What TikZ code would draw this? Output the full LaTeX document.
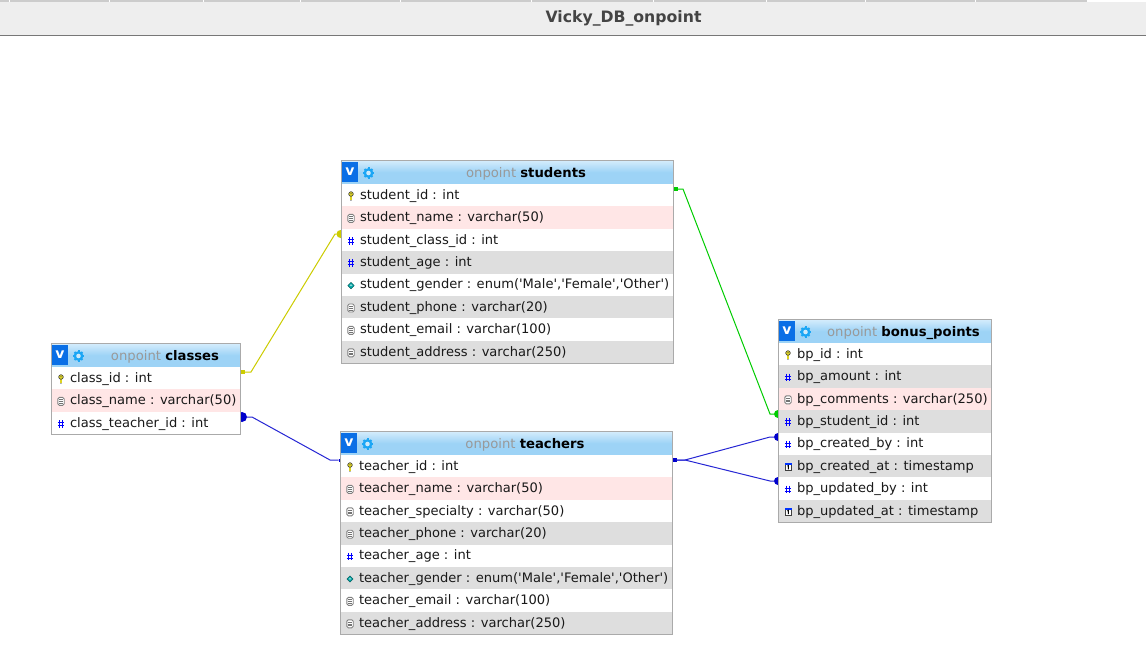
\documentclass[tikz,border=0pt]{standalone}
\usepackage{fontspec}
\setmainfont{DejaVu Sans}
\newfontfamily\rowfont{DejaVu Sans}
\definecolor{barbg}{HTML}{EEEEEE}
\definecolor{barline}{HTML}{777777}
\definecolor{tabc}{HTML}{CCCCCC}
\definecolor{frame}{HTML}{AAAAAA}
\definecolor{rw}{HTML}{FFFFFF}
\definecolor{rp}{HTML}{FFE6E6}
\definecolor{rg}{HTML}{DEDEDE}
\definecolor{hdtop}{HTML}{D4ECFC}
\definecolor{hdbot}{HTML}{9DD3F6}
\definecolor{logoblue}{HTML}{0A6FE6}
\definecolor{gearblue}{HTML}{1BA6F5}
\definecolor{ownc}{HTML}{999999}
\definecolor{fkblue}{HTML}{0000CC}
\definecolor{fkyellow}{HTML}{CCCC00}
\definecolor{fkgreen}{HTML}{00CC00}
\definecolor{titlec}{HTML}{444444}
\tikzset{
  x=1pt,y=-1pt,
  every node/.style={outer sep=0pt},
  rowtext/.style={anchor=base west,inner sep=0pt,font=\rowfont\fontsize{13.05}{15}\selectfont,text=black!90},
  titletext/.style={inner sep=0pt,font=\fontsize{13.2}{15}\selectfont},
  tableframe/.style={draw=frame,line width=1pt,inner sep=0pt,anchor=north west},
  logobox/.style={fill=logoblue,text=white,inner sep=0pt,anchor=north west,minimum width=16pt,minimum height=19.5pt,font=\fontsize{14}{15}\selectfont\bfseries},
  blink/.style={draw=fkblue!85!white,line width=1pt},
  ylink/.style={draw=fkyellow,line width=1pt},
  glink/.style={draw=fkgreen,line width=1pt},
  enddot/.style={circle,inner sep=0pt,minimum size=8pt},
  endsq/.style={rectangle,inner sep=0pt,minimum size=4pt},
  key/.pic={
    \draw[black!75,line width=2.6pt,line cap=round] (0,-.5) -- (0,3.6);
    \draw[yellow!85!black,line width=1.2pt] (0,-.5) -- (0,3.6);
    \fill[yellow!85!black,draw=black!75,line width=.6pt] (0,-2) circle (2.3);
    \fill[black!70] (0,-2.4) circle (.6);
  },
  doc/.pic={
    \draw[draw=black!50,fill=white,line width=.9pt,rounded corners=1.5pt] (-3.2,-4) rectangle (3.2,4);
    \foreach \q in {-1.8,0,1.8}{\draw[black!55,line width=.6pt] (-1.6,\q) -- (1.6,\q);}
  },
  hash/.pic={
    \draw[blue,line width=1pt] (-1.4,-3.8) -- (-1.4,3.8) (1.6,-3.8) -- (1.6,3.8) (-3.2,-1.4) -- (3.2,-1.4) (-3.2,1.6) -- (3.2,1.6);
  },
  enumi/.pic={
    \fill[teal!70!cyan,draw=teal!60!black,line width=.3pt] (0,-3.2) -- (3.2,0) -- (0,3.2) -- (-3.2,0) -- cycle;
    \fill[white,opacity=.55] (0,-1.5) -- (1.5,0) -- (0,0.6) -- (-1.5,0) -- cycle;
  },
  cal/.pic={
    \fill[white,draw=black!75,line width=.6pt] (-3,-3.5) rectangle (3.2,3.5);
    \fill[blue!80!cyan] (-3.3,-4) rectangle (3.5,-2.2);
    \draw[black,line width=.9pt] (-.6,-.9) -- (.3,-1.4) -- (.3,2.4);
  },
  gear/.pic={
    \foreach \a in {0,45,...,315}{\draw[gearblue,line width=2pt] (0,0) -- (\a:5.6);}
    \fill[gearblue] (0,0) circle (4.9);
    \fill[hdbot!50!white] (0,0) circle (2.3);
  }
}
% name, x, top, width, owner title, rows
\newcommand{\dbtable}[6]{%
  \pgfmathsetmacro{\tx}{#2}\pgfmathsetmacro{\ty}{#3}\pgfmathsetmacro{\tw}{#4}
  \shade[top color=hdtop,bottom color=hdbot,middle color=hdbot] (\tx,\ty) rectangle (\tx+\tw,\ty+23.5);
  \node[logobox] (#1-logo) at (\tx+.5,\ty+1.5) {v};
  \pic at (\tx+27,\ty+12.5) {gear};
  \node[titletext] (#1-title) at (\tx+37+\tw/2-18.5,\ty+13.3) {\textcolor{ownc}{onpoint} \textbf{#5}};
  \foreach \ic/\bg/\txt [count=\n from 0] in {#6}{
    \pgfmathsetmacro{\ry}{\ty+23.5+\n*22.4}
    \fill[\bg] (\tx,\ry) rectangle (\tx+\tw,\ry+22.4);
    \pic at (\tx+9.5,\ry+12) {\ic};
    \node[rowtext] (#1-r\n) at (\tx+18.5,\ry+15.3) {\txt};
  }
  \node[tableframe,minimum width=#4 pt,minimum height=203pt] (#1) at (\tx,\ty) {};
}
\begin{document}
\begin{tikzpicture}
\useasboundingbox (0,0) rectangle (1146,645);
\fill[white] (0,0) rectangle (1146,645);
% top bar
\fill[barbg] (0,2) rectangle (1146,35);
\fill[tabc] (0,0) rectangle (1087,2);
\foreach \s in {9,109,203,300,399.5,530.5,652.5,766,865,975}{\fill[white] (\s,0) rectangle (\s+1.2,2);}
\fill[barline] (0,35) rectangle (1146,36);
\node[inner sep=0pt,text=titlec,font=\fontsize{15.7}{17}\selectfont\bfseries] (dbtitle) at (623.5,18.5) {Vicky\_DB\_onpoint};
% connector ends
\node[enddot,fill=fkyellow] (e1) at (340.5,234) {};
\node[endsq,fill=fkyellow] (s1) at (242.5,372) {};
\node[enddot,fill=fkblue,minimum size=10pt] (s2) at (242,417) {};
\node[endsq,fill=fkblue,minimum size=3pt] (e2) at (340,460) {};
\node[endsq,fill=fkgreen] (s3) at (675.5,189) {};
\node[enddot,fill=fkgreen] (e3) at (778,414) {};
\node[endsq,fill=fkblue] (s4) at (674.5,460) {};
\node[enddot,fill=fkblue] (e4) at (778,437) {};
\node[enddot,fill=fkblue] (e5) at (778,481) {};
\draw[ylink] (s1) -- (251,372) -- (335,234) -- (e1);
\draw[blink] (s2) -- (252,417) -- (330,460) -- (e2);
\draw[glink] (s3) -- (683,189) -- (770,414) -- (e3);
\draw[blink] (s4) -- (685,460) -- (770,437) -- (e4);
\draw[blink] (s4) -- (685,460) -- (770,481) -- (e5);
% tables
\dbtable{students}{341.5}{160.5}{332}{students}{
 key/rw/{student\_id : int},
 doc/rp/{student\_name : varchar(50)},
 hash/rw/{student\_class\_id : int},
 hash/rg/{student\_age : int},
 enumi/rw/{student\_gender : enum('Male','Female','Other')},
 doc/rg/{student\_phone : varchar(20)},
 doc/rw/{student\_email : varchar(100)},
 doc/rg/{student\_address : varchar(250)}}
\dbtable{teachers}{340.5}{431.5}{332}{teachers}{
 key/rw/{teacher\_id : int},
 doc/rp/{teacher\_name : varchar(50)},
 doc/rw/{teacher\_specialty : varchar(50)},
 doc/rg/{teacher\_phone : varchar(20)},
 hash/rw/{teacher\_age : int},
 enumi/rg/{teacher\_gender : enum('Male','Female','Other')},
 doc/rw/{teacher\_email : varchar(100)},
 doc/rg/{teacher\_address : varchar(250)}}
\dbtable{bonus}{778.5}{319.5}{213}{bonus\_points}{
 key/rw/{bp\_id : int},
 hash/rg/{bp\_amount : int},
 doc/rp/{bp\_comments : varchar(250)},
 hash/rg/{bp\_student\_id : int},
 hash/rw/{bp\_created\_by : int},
 cal/rg/{bp\_created\_at : timestamp},
 hash/rw/{bp\_updated\_by : int},
 cal/rg/{bp\_updated\_at : timestamp}}
% classes: three rows
\shade[top color=hdtop,bottom color=hdbot,middle color=hdbot] (51.5,343.5) rectangle (240.5,367);
\node[logobox] (classes-logo) at (52,345) {v};
\pic at (78.5,356) {gear};
\node[titletext] (classes-title) at (165,356.8) {\textcolor{ownc}{onpoint} \textbf{classes}};
\foreach \ic/\bg/\txt [count=\n from 0] in {
 key/rw/{class\_id : int},
 doc/rp/{class\_name : varchar(50)},
 hash/rw/{class\_teacher\_id : int}}{
  \pgfmathsetmacro{\ry}{367+\n*22.4}
  \fill[\bg] (51.5,\ry) rectangle (240.5,\ry+22.4);
  \pic at (61,\ry+12) {\ic};
  \node[rowtext] (classes-r\n) at (70,\ry+15.3) {\txt};
}
\node[tableframe,minimum width=189pt,minimum height=90.5pt] (classes) at (51.5,343.5) {};
\end{tikzpicture}
\end{document}
